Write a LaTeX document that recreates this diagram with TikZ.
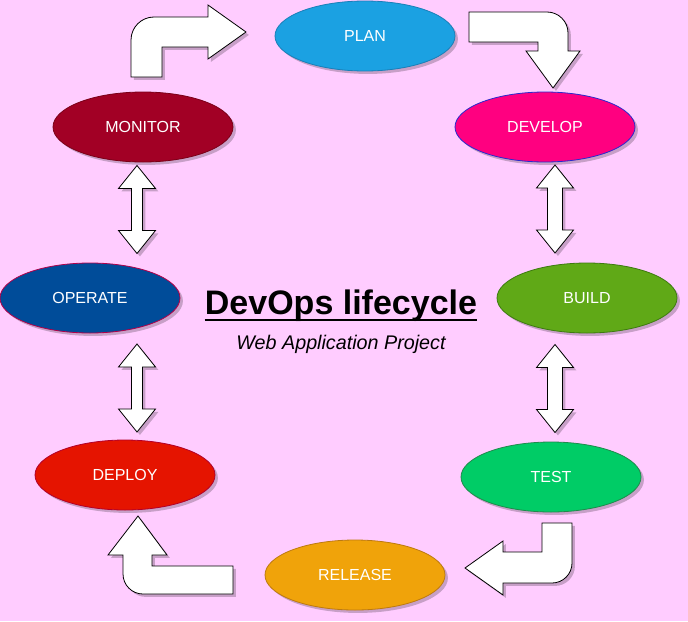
\documentclass[tikz,border=0pt]{standalone}
\usepackage{fontspec}
\setmainfont{Liberation Sans}
\usetikzlibrary{shapes.geometric,shadows}

\definecolor{bgpink}{HTML}{FFCCFF}
\definecolor{planfill}{HTML}{1BA1E2}
\definecolor{planedge}{HTML}{1A7FB8}
\definecolor{devfill}{HTML}{FF0080}
\definecolor{devedge}{HTML}{2A2ACC}
\definecolor{buildfill}{HTML}{60A917}
\definecolor{buildedge}{HTML}{3D7A10}
\definecolor{testfill}{HTML}{00CC66}
\definecolor{testedge}{HTML}{1F8A4C}
\definecolor{relfill}{HTML}{F0A30A}
\definecolor{reledge}{HTML}{BD7A10}
\definecolor{depfill}{HTML}{E51400}
\definecolor{depedge}{HTML}{B2002A}
\definecolor{opfill}{HTML}{004C99}
\definecolor{opedge}{HTML}{B0004A}
\definecolor{monfill}{HTML}{A20025}
\definecolor{monedge}{HTML}{7A0018}

\begin{document}
\begin{tikzpicture}[
  x=0.75pt, y=0.75pt,
  shade/.style={drop shadow={shadow xshift=2.2pt,shadow yshift=-2.2pt,opacity=0.22,fill=black}},
  stage/.style={ellipse,draw,line width=0.6pt,minimum width=135pt,minimum height=52.5pt,
                inner sep=0pt,text=white,font=\fontsize{12}{14}\selectfont,shade},
  blockarr/.style={draw,fill=white,line width=0.6pt,line join=miter,shade},
  pics/dblarr/.style={code={
    \draw[blockarr] (0,44) -- (18.5,21) -- (#1,21) -- (#1,-21) -- (18.5,-21) -- (0,-44)
      -- (-18.5,-21) -- (-#1,-21) -- (-#1,21) -- (-18.5,21) -- cycle;}}]
\useasboundingbox (0,0) rectangle (688,-621);
\fill[bgpink] (0,0) rectangle (688,-621);

\node[stage,fill=planfill,draw=planedge] (plan) at (365,-36) {PLAN};
\node[stage,fill=devfill,draw=devedge] (develop) at (545,-127) {DEVELOP};
\node[stage,fill=buildfill,draw=buildedge] (build) at (587,-298) {BUILD};
\node[stage,fill=testfill,draw=testedge] (test) at (551,-477) {TEST};
\node[stage,fill=relfill,draw=reledge] (release) at (355,-575) {RELEASE};
\node[stage,fill=depfill,draw=depedge] (deploy) at (125,-475) {DEPLOY};
\node[stage,fill=opfill,draw=opedge] (operate) at (90,-298) {OPERATE};
\node[stage,fill=monfill,draw=monedge] (monitor) at (143,-127) {MONITOR};

\node[anchor=base,inner xsep=0pt,font=\bfseries\fontsize{25.5}{30}\selectfont] (title) at (341,-314)
  {DevOps lifecycle};
\draw[line width=1.6pt] ([yshift=-4.2pt]title.base west) -- ([yshift=-4.2pt]title.base east);
\node[anchor=base,font=\itshape\fontsize{14.8}{18}\selectfont] (subtitle) at (341,-349)
  {Web Application Project};

\pic (mon-op) at (137,-209.5) {dblarr=5.5};
\pic (op-dep) at (137,-388) {dblarr=5.5};
\pic (dev-bld) at (555,-209) {dblarr=7.5};
\pic (bld-tst) at (555,-388.5) {dblarr=7.5};

\draw[blockarr] (131,-77) -- (131,-40) arc(180:90:23) -- (208,-17) -- (208,-5) -- (246,-32)
  -- (208,-59) -- (208,-47) -- (162,-47) -- (162,-77) -- cycle;
\draw[blockarr] (469,-12) -- (547,-12) arc(90:0:21) -- (568,-51) -- (580,-51) -- (553,-88)
  -- (526,-51) -- (538,-51) -- (538,-42) -- (469,-42) -- cycle;
\draw[blockarr] (542,-523) -- (572,-523) -- (572,-563) arc(0:-90:20) -- (503,-583) -- (503,-595)
  -- (465,-568) -- (503,-541) -- (503,-552) -- (542,-552) -- cycle;
\draw[blockarr] (233,-566) -- (152,-566) -- (152,-555) -- (167,-555) -- (138,-516) -- (108,-555)
  -- (123,-555) -- (123,-574) arc(180:270:20) -- (233,-594) -- cycle;
\end{tikzpicture}
\end{document}
